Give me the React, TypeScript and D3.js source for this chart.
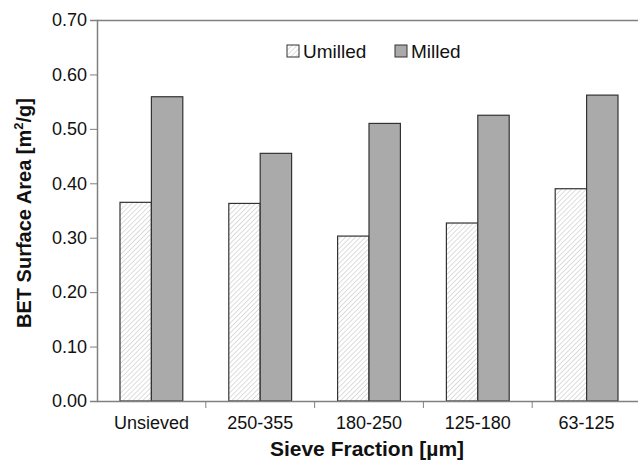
import { useEffect, useRef } from "react";
import * as d3 from "d3";

// Chart data
const categories = ["Unsieved", "250-355", "180-250", "125-180", "63-125"];
const umilled = [0.365, 0.363, 0.303, 0.327, 0.39];
const milled = [0.559, 0.455, 0.51, 0.525, 0.562];
const yTicks = [0, 0.1, 0.2, 0.3, 0.4, 0.5, 0.6, 0.7];
const seriesNames = ["Umilled", "Milled"];

const App = () => {
  const ref = useRef<SVGSVGElement>(null);

  useEffect(() => {
    if (!ref.current) return;
    const svg = d3.select(ref.current);
    svg.selectAll("*").remove();

    const margin = { left: 97, top: 20 };
    const height = 381;
    const width = 544;
    const font = "Liberation Sans, Arial, Helvetica, sans-serif";

    // hatch pattern for the unmilled bars
    const defs = svg.append("defs");
    const pat = defs
      .append("pattern")
      .attr("id", "hatch")
      .attr("patternUnits", "userSpaceOnUse")
      .attr("width", 3.5)
      .attr("height", 3.5)
      .attr("patternTransform", "rotate(45)");
    pat.append("rect").attr("width", 3.5).attr("height", 3.5).attr("fill", "#fff");
    pat
      .append("line")
      .attr("x1", 0)
      .attr("y1", 0)
      .attr("x2", 0)
      .attr("y2", 3.5)
      .attr("stroke", "#cfcfcf")
      .attr("stroke-width", 1.4);

    const g = svg
      .append("g")
      .attr("transform", `translate(${margin.left}, ${margin.top})`);

    const x0 = d3
      .scaleBand()
      .domain(categories)
      .range([0, width])
      .paddingInner(0)
      .paddingOuter(0);

    const x1 = d3
      .scaleBand()
      .domain(seriesNames)
      .range([23, x0.bandwidth() - 23])
      .padding(0);

    const y = d3.scaleLinear().domain([0, 0.7]).range([height, 0]);

    // top frame line
    g.append("line")
      .attr("x1", 0)
      .attr("x2", width)
      .attr("y1", 0.5)
      .attr("y2", 0.5)
      .attr("stroke", "#808080")
      .attr("stroke-width", 1.5);

    // bars
    const groups = g
      .selectAll(".grp")
      .data(categories)
      .enter()
      .append("g")
      .attr("transform", (d) => `translate(${x0(d)}, 0)`);

    groups
      .append("rect")
      .attr("x", x1("Umilled")!)
      .attr("y", (_, i) => y(umilled[i]))
      .attr("width", x1.bandwidth())
      .attr("height", (_, i) => height - y(umilled[i]))
      .attr("fill", "url(#hatch)")
      .attr("stroke", "#333")
      .attr("stroke-width", 1.2);

    groups
      .append("rect")
      .attr("x", x1("Milled")!)
      .attr("y", (_, i) => y(milled[i]))
      .attr("width", x1.bandwidth())
      .attr("height", (_, i) => height - y(milled[i]))
      .attr("fill", "#a9aaa9")
      .attr("stroke", "#333")
      .attr("stroke-width", 1.2);

    // y axis
    const yAxis = g
      .append("g")
      .call(
        d3
          .axisLeft(y)
          .tickValues(yTicks)
          .tickFormat((d) => d3.format(".2f")(d as number))
          .tickSize(7)
          .tickPadding(3)
      );
    yAxis.select(".domain").attr("stroke", "#808080").attr("stroke-width", 1.5);
    yAxis.selectAll(".tick line").attr("stroke", "#808080");
    yAxis
      .selectAll("text")
      .attr("fill", "#111")
      .style("font-family", font)
      .style("font-size", "18px");

    // x axis
    const xAxis = g
      .append("g")
      .attr("transform", `translate(0, ${height})`)
      .call(d3.axisBottom(x0).tickSize(0).tickPadding(15));
    xAxis.select(".domain").attr("stroke", "#808080").attr("stroke-width", 1.5);
    xAxis
      .selectAll("text")
      .attr("fill", "#111")
      .style("font-family", font)
      .style("font-size", "18px");
    // ticks between categories
    xAxis
      .selectAll(".sep")
      .data(categories.slice(1))
      .enter()
      .append("line")
      .attr("x1", (d) => x0(d)!)
      .attr("x2", (d) => x0(d)!)
      .attr("y1", 0)
      .attr("y2", 7)
      .attr("stroke", "#808080");

    // axis titles
    svg
      .append("text")
      .attr("x", margin.left + width / 2 - 2)
      .attr("y", 456)
      .attr("text-anchor", "middle")
      .style("font-family", font)
      .style("font-size", "21px")
      .style("font-weight", "bold")
      .attr("fill", "#111")
      .text("Sieve Fraction [µm]");

    const yt = svg
      .append("text")
      .attr("transform", `translate(31, 213) rotate(-90)`)
      .attr("text-anchor", "middle")
      .style("font-family", font)
      .style("font-size", "20px")
      .style("font-weight", "bold")
      .attr("fill", "#111");
    yt.append("tspan").text("BET Surface Area [m");
    yt.append("tspan").attr("dy", -8).style("font-size", "13px").text("2");
    yt.append("tspan").attr("dy", 8).text("/g]");

    // legend
    const legend = svg.append("g").attr("transform", "translate(287, 45)");
    const items = [
      { name: seriesNames[0], fill: "url(#hatch)", x: 0 },
      { name: seriesNames[1], fill: "#a9aaa9", x: 108 },
    ];
    items.forEach((it) => {
      legend
        .append("rect")
        .attr("x", it.x)
        .attr("y", 0)
        .attr("width", 12)
        .attr("height", 12)
        .attr("fill", it.fill)
        .attr("stroke", "#333");
      legend
        .append("text")
        .attr("x", it.x + 16)
        .attr("y", 13)
        .style("font-family", font)
        .style("font-size", "19px")
        .attr("fill", "#111")
        .text(it.name);
    });
  }, []);

  return (
    <svg
      ref={ref}
      width={638}
      height={467}
      style={{ position: "absolute", left: 0, top: 0, background: "#fff" }}
    />
  );
};

export default App;
